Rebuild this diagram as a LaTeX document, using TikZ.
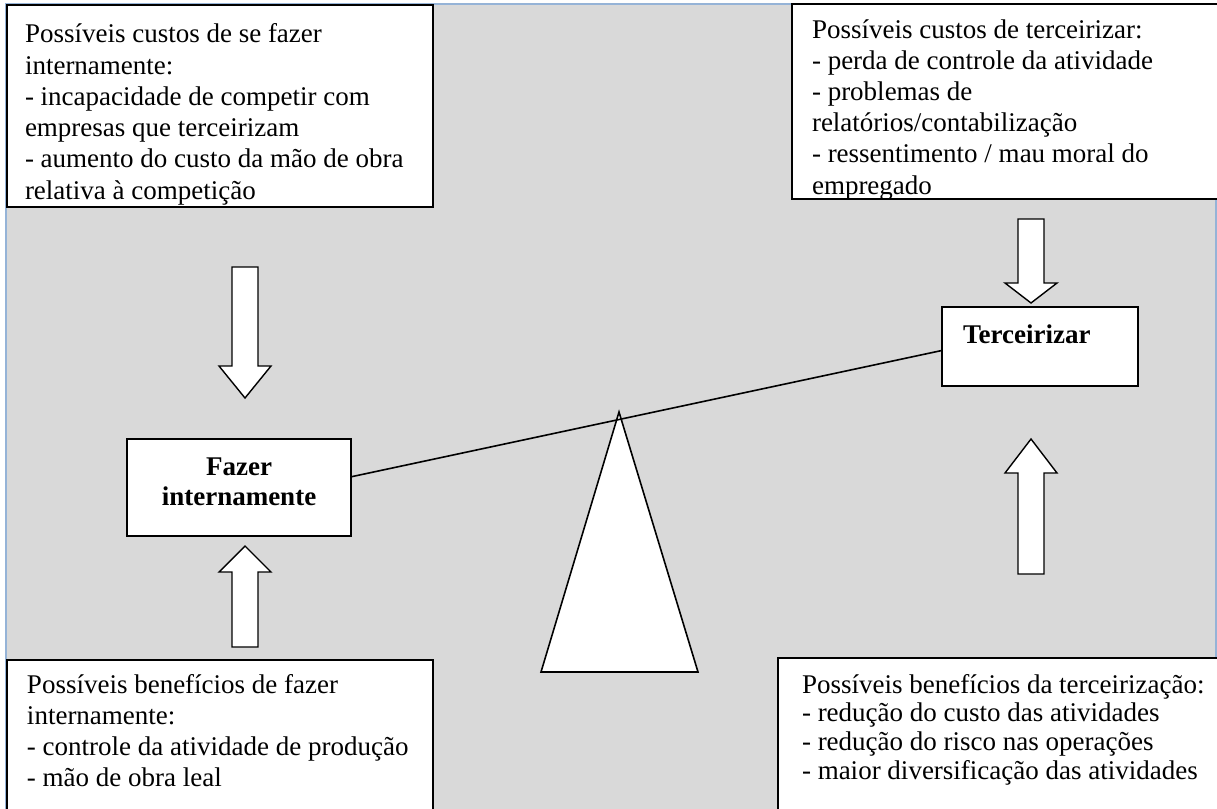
\documentclass[tikz,border=0pt]{standalone}
\usepackage{fontspec}
\setmainfont{Liberation Serif}
\usetikzlibrary{calc}
\definecolor{bggray}{RGB}{217,217,217}
\definecolor{bgblue}{RGB}{149,179,215}
\tikzset{
  textbox/.style={draw=black, fill=white, line width=1.6pt},
  mainbox/.style={draw=black, fill=white, line width=1.6pt, inner sep=0pt, outer sep=0pt},
  blockarrow/.style={draw=black, fill=white, line width=1.4pt, line join=miter},
  boxtext/.style={anchor=base west, inner sep=0pt, outer sep=0pt},
  beam/.style={draw=black, line width=1.6pt},
}
\newcommand{\bigfont}{\fontsize{27}{31.2}\selectfont}
\begin{document}
\begin{tikzpicture}[x=1pt, y=-1pt]
\useasboundingbox (0,0) rectangle (1217,808);
\clip (0,0) rectangle (1217,808);
% background
\draw[fill=bggray, draw=bgblue, line width=2pt] (6,4) rectangle (1216,812);

% top-left box
\draw[textbox] (7,5) rectangle (433,207);
\node[boxtext] (tl) at (25,43) {\parbox[t]{420pt}{\bigfont Possíveis custos de se fazer\\internamente:\\- incapacidade de competir com\\empresas que terceirizam\\- aumento do custo da mão de obra\\relativa à competição}};

% top-right box (text clipped at bottom)
\draw[textbox] (792,4) rectangle (1219,199);
\begin{scope}
\clip (793,5) rectangle (1216,197);
\node[boxtext] (tr) at (812,38) {\parbox[t]{420pt}{\fontsize{27}{31.2}\selectfont Possíveis custos de terceirizar:\\- perda de controle da atividade\\- problemas de\\relatórios/contabilização\\- ressentimento / mau moral do\\empregado}};
\end{scope}

% bottom-left box
\draw[textbox] (7,660) rectangle (433,812);
\node[boxtext] (bl) at (27,693) {\parbox[t]{420pt}{\fontsize{27}{31.3}\selectfont Possíveis benefícios de fazer\\internamente:\\- controle da atividade de produção\\- mão de obra leal}};

% bottom-right box
\draw[textbox] (778,658) rectangle (1220,812);
\node[boxtext] (br) at (802,693) {\parbox[t]{420pt}{\fontsize{27}{28.7}\selectfont Possíveis benefícios da terceirização:\\- redução do custo das atividades\\- redução do risco nas operações\\- maior diversificação das atividades}};

% main boxes
\node[mainbox, minimum width=224pt, minimum height=97pt] (fazer) at (239,487.5) {};
\node[anchor=base, inner sep=0pt] (fazertxt) at (239,475) {\parbox[t]{220pt}{\centering\fontsize{27}{30}\selectfont\bfseries Fazer\\internamente}};
\node[mainbox, minimum width=196pt, minimum height=79pt] (terc) at (1040,346.5) {};
\node[boxtext] (terctxt) at (963,343) {\fontsize{27}{30}\selectfont\bfseries Terceirizar};

% block arrows
\draw[blockarrow] (232,267) -- (258,267) -- (258,366) -- (271,366) -- (245,398) -- (219,366) -- (232,366) -- cycle;
\draw[blockarrow] (232,647) -- (258,647) -- (258,572) -- (271,572) -- (245,546) -- (219,572) -- (232,572) -- cycle;
\draw[blockarrow] (1018,219) -- (1044,219) -- (1044,283) -- (1057,283) -- (1031,303) -- (1005,283) -- (1018,283) -- cycle;
\draw[blockarrow] (1018,574) -- (1044,574) -- (1044,473) -- (1057,473) -- (1031,439) -- (1005,473) -- (1018,473) -- cycle;

% fulcrum
\draw[fill=white, draw=black, line width=1.6pt, line join=miter] (619,412) -- (698,672) -- (541,672) -- cycle;

% beam
\draw[beam] ($(fazer.north east)!0.39!(fazer.south east)$) -- ($(terc.north west)!0.55!(terc.south west)$);
\end{tikzpicture}
\end{document}
